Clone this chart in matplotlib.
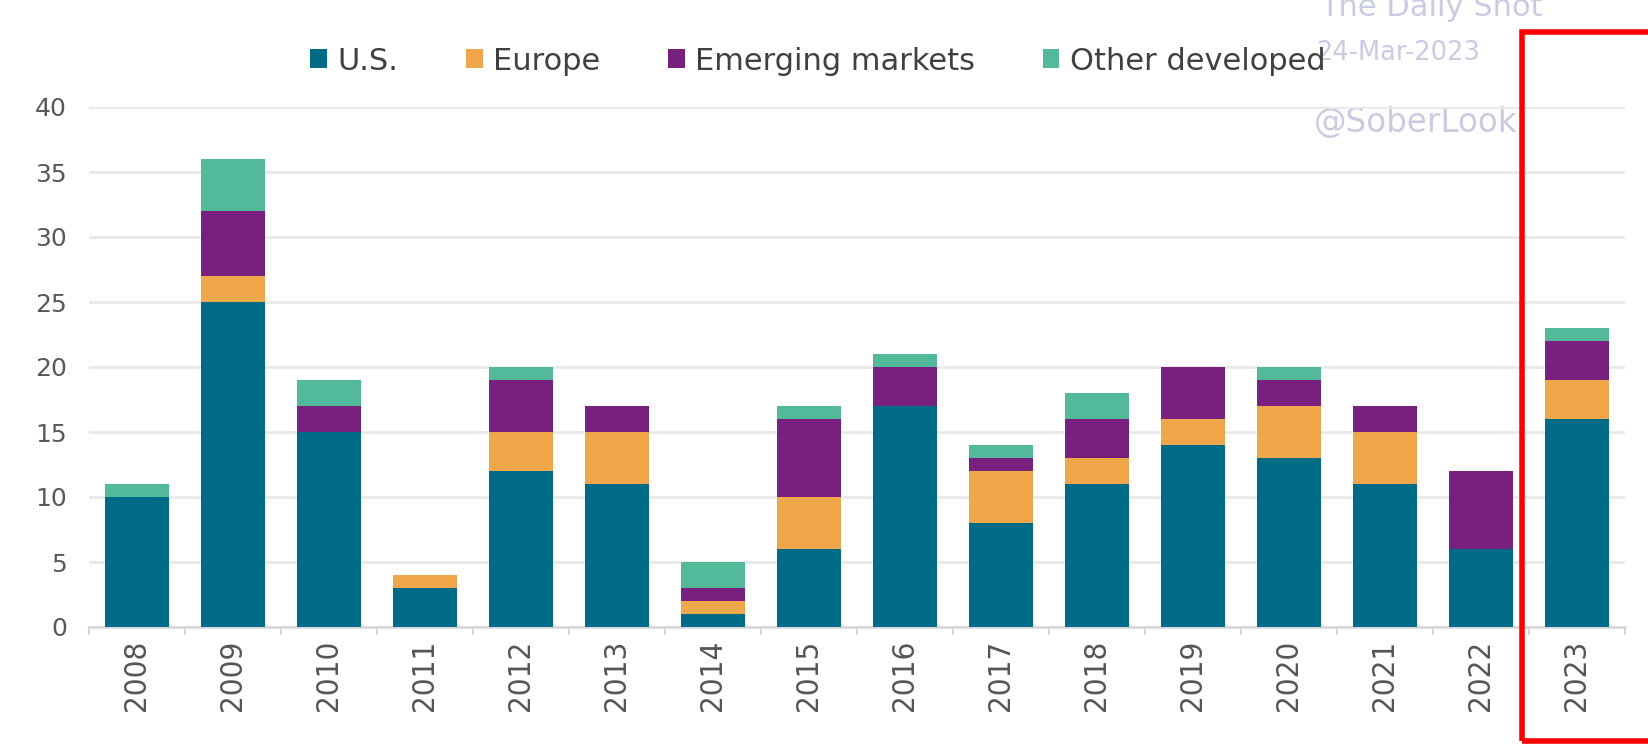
import numpy as np
import matplotlib.pyplot as plt
from matplotlib.patches import Patch, Rectangle

years = ['2008', '2009', '2010', '2011', '2012', '2013', '2014', '2015',
         '2016', '2017', '2018', '2019', '2020', '2021', '2022', '2023']
us = [10, 25, 15, 3, 12, 11, 1, 6, 17, 8, 11, 14, 13, 11, 6, 16]
europe = [0, 2, 0, 1, 3, 4, 1, 4, 0, 4, 2, 2, 4, 4, 0, 3]
emerging = [0, 5, 2, 0, 4, 2, 1, 6, 3, 1, 3, 4, 2, 2, 6, 3]
other_dev = [1, 4, 2, 0, 1, 0, 2, 1, 1, 1, 2, 0, 1, 0, 0, 1]

series = [('U.S.', us, '#006b87'),
          ('Europe', europe, '#f0a64a'),
          ('Emerging markets', emerging, '#77207e'),
          ('Other developed', other_dev, '#52b99b')]

W, H = 1649, 744
fig = plt.figure(figsize=(W / 100, H / 100), dpi=100)
fig.patch.set_facecolor('white')

# watermark (sits behind everything)
wm = '#c9cbe3'
fig.text(1320 / W, 1 - 16 / H, 'The Daily Shot', fontsize=22, color=wm,
         ha='left', va='baseline', zorder=-2)
fig.text(1316 / W, 1 - 53 / H, '24-Mar-2023', fontsize=18.5, color=wm,
         ha='left', va='center', zorder=-2)
fig.text(1314 / W, 1 - 122 / H, '@SoberLook', fontsize=23.5, color=wm,
         ha='left', va='center', zorder=-2)

# white area of the highlight box hides the watermark tail
box = dict(xy=(1522 / W, 3 / H), width=200 / W, height=(H - 32 - 3) / H)
fig.patches.append(Rectangle(transform=fig.transFigure, facecolor='white',
                             edgecolor='none', zorder=-1, **box))

ax = fig.add_axes([89 / W, (H - 627) / H, (1625 - 89) / W, (627 - 107) / H])
ax.set_facecolor('none')

x = np.arange(len(years))
bottom = np.zeros(len(years))
for name, vals, col in series:
    ax.bar(x, vals, width=0.66, bottom=bottom, color=col, label=name, zorder=3)
    bottom += np.array(vals)

ax.set_xlim(-0.5, len(years) - 0.5)
ax.set_ylim(0, 40)
ax.set_yticks(range(0, 41, 5))
ax.grid(axis='y', color='#e9e9e9', linewidth=2, zorder=0)
ax.set_axisbelow(True)

for s in ['top', 'right', 'left']:
    ax.spines[s].set_visible(False)
ax.spines['bottom'].set_color('#d6d6d6')
ax.spines['bottom'].set_linewidth(1.8)

ax.set_xticks(x)
ax.set_xticks(np.arange(-0.5, len(years), 1.0), minor=True)
ax.set_xticklabels(years, rotation=90, fontsize=22.5, color='#555555',
                   fontstretch='condensed')
ax.tick_params(axis='x', which='major', length=0, pad=9)
ax.tick_params(axis='x', which='minor', length=6, width=1.5, color='#d6d6d6')
ax.tick_params(axis='y', length=0, pad=16, labelsize=18, labelcolor='#595959')

handles = [Patch(facecolor=c, edgecolor='none') for _, _, c in series]
labels = [n for n, _, _ in series]
fig.legend(handles, labels, loc='center', bbox_to_anchor=(818 / W, 1 - 61 / H),
           ncol=4, frameon=False, fontsize=22, labelcolor='#404040',
           handlelength=0.55, handleheight=0.55, handletextpad=0.35,
           columnspacing=2.2)

# red highlight box around 2023
fig.patches.append(Rectangle(transform=fig.transFigure, facecolor='none',
                             edgecolor='#ff0000', linewidth=4, zorder=10, **box))

fig.savefig('out.png', dpi=100)
